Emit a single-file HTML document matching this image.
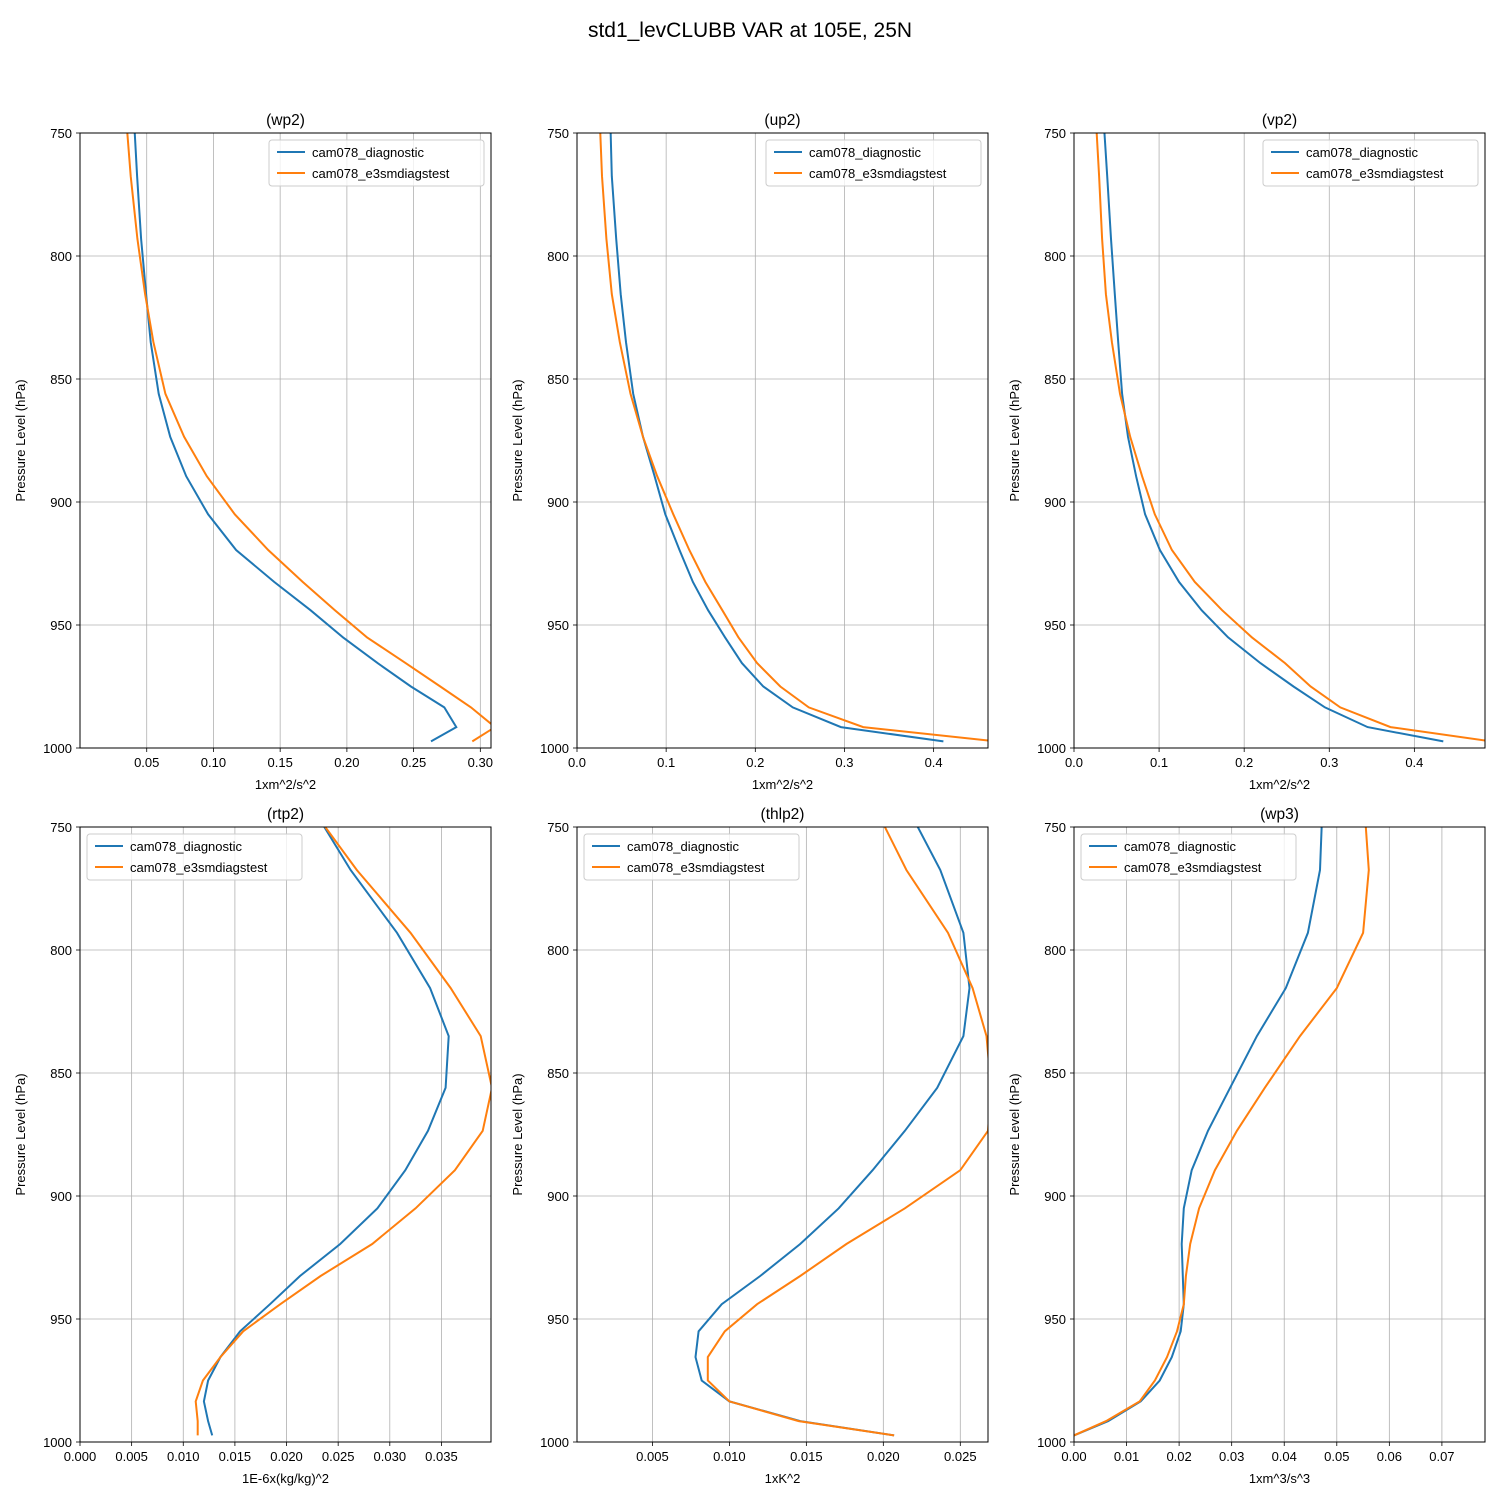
<!DOCTYPE html>
<html><head><meta charset="utf-8"><style>
body{margin:0;background:#fff;}
svg text{font-family:"Liberation Sans","DejaVu Sans",sans-serif;}
</style></head><body>
<svg id="fig" width="1500" height="1500" viewBox="0 0 1500 1500" xmlns="http://www.w3.org/2000/svg">
<rect width="1500" height="1500" fill="#fff"/>
<text x="750" y="37" font-size="21" text-anchor="middle">std1_levCLUBB VAR at 105E, 25N</text>
</svg>
<script>
const levels=[740,767.5,793,815.5,835,856,873.5,889.5,905,919.5,932.5,944,955,965.5,975,983.5,991.5,997.3];
const wp2Diag=[0.040,0.0428,0.0458,0.0495,0.053,0.059,0.0676,0.0796,0.096,0.117,0.1456,0.1727,0.197,0.223,0.248,0.273,0.282,0.263];
const wp2Test=[0.034,0.038,0.043,0.0488,0.055,0.064,0.078,0.095,0.116,0.141,0.167,0.191,0.215,0.244,0.270,0.293,0.311,0.294];
const up2Diag=[0.037,0.039,0.044,0.049,0.055,0.063,0.074,0.087,0.099,0.115,0.130,0.147,0.166,0.185,0.209,0.242,0.296,0.411];
const up2Test=[0.025,0.028,0.033,0.039,0.048,0.060,0.074,0.090,0.108,0.126,0.144,0.163,0.181,0.202,0.228,0.26,0.321,0.47];
const vp2Diag=[0.034,0.039,0.0435,0.048,0.052,0.0565,0.0635,0.073,0.0835,0.101,0.1235,0.150,0.181,0.219,0.258,0.295,0.345,0.434];
const vp2Test=[0.025,0.0295,0.033,0.0375,0.0445,0.054,0.066,0.080,0.095,0.115,0.142,0.174,0.209,0.248,0.278,0.313,0.372,0.49];
const rtp2Diag=[0.0222,0.0262,0.0307,0.0339,0.0357,0.0354,0.0337,0.0315,0.0288,0.0252,0.0213,0.0184,0.0155,0.0136,0.0124,0.0120,0.0124,0.0128];
const rtp2Test=[0.0220,0.0268,0.032,0.0359,0.0388,0.0399,0.039,0.0363,0.0325,0.0283,0.0233,0.0194,0.0158,0.0136,0.0119,0.0112,0.0114,0.0114];
const thlp2Diag=[0.0214,0.0237,0.0252,0.0256,0.0252,0.0235,0.0214,0.0193,0.0171,0.0146,0.012,0.0095,0.008,0.0078,0.0082,0.010,0.0146,0.0207];
const thlp2Test=[0.0193,0.0215,0.0242,0.0258,0.0267,0.027,0.0268,0.025,0.0214,0.0176,0.0146,0.0118,0.0097,0.0086,0.0086,0.010,0.0145,0.0207];
const wp3Diag=[0.0473,0.0468,0.0445,0.0403,0.0348,0.0297,0.0255,0.0224,0.0209,0.0205,0.0207,0.0209,0.0203,0.0186,0.0163,0.0127,0.0065,0.0];
const wp3Test=[0.0552,0.0561,0.055,0.050,0.043,0.0363,0.031,0.0268,0.0238,0.0221,0.0213,0.0209,0.0196,0.0177,0.0154,0.0125,0.0061,0.0];
const yTicks=[750,800,850,900,950,1000];
const panels=[
 {id:'wp2',title:'(wp2)',xl:'1xm^2/s^2',x0:80,y0:133,min:0.0,max:0.308,ticks:[0.05,0.10,0.15,0.20,0.25,0.30],dec:2,d:wp2Diag,t:wp2Test,leg:'right'},
 {id:'up2',title:'(up2)',xl:'1xm^2/s^2',x0:577,y0:133,min:0,max:0.461,ticks:[0,0.1,0.2,0.3,0.4],dec:1,d:up2Diag,t:up2Test,leg:'right'},
 {id:'vp2',title:'(vp2)',xl:'1xm^2/s^2',x0:1074,y0:133,min:0,max:0.483,ticks:[0,0.1,0.2,0.3,0.4],dec:1,d:vp2Diag,t:vp2Test,leg:'right'},
 {id:'rtp2',title:'(rtp2)',xl:'1E-6x(kg/kg)^2',x0:80,y0:827,min:0,max:0.0398,ticks:[0,0.005,0.010,0.015,0.020,0.025,0.030,0.035],dec:3,d:rtp2Diag,t:rtp2Test,leg:'left'},
 {id:'thlp2',title:'(thlp2)',xl:'1xK^2',x0:577,y0:827,min:0.0001,max:0.0268,ticks:[0.005,0.010,0.015,0.020,0.025],dec:3,d:thlp2Diag,t:thlp2Test,leg:'left'},
 {id:'wp3',title:'(wp3)',xl:'1xm^3/s^3',x0:1074,y0:827,min:0,max:0.0782,ticks:[0,0.01,0.02,0.03,0.04,0.05,0.06,0.07],dec:2,d:wp3Diag,t:wp3Test,leg:'left'}
];
const NS='http://www.w3.org/2000/svg';
const svg=document.getElementById('fig');
const W=411,H=615;
function mk(tag,attrs,parent){const e=document.createElementNS(NS,tag);for(const k in attrs)e.setAttribute(k,attrs[k]);parent.appendChild(e);return e;}
const defs=mk('defs',{},svg);
panels.forEach(p=>{
 const g=mk('g',{},svg);
 
 
 const xs=v=>p.x0+(v-p.min)/(p.max-p.min)*W;
 const ys=v=>p.y0+(v-750)/250*H;
 const cp=mk('clipPath',{id:'c'+p.id},defs);
 mk('rect',{x:p.x0,y:p.y0,width:W,height:H},cp);
 p.ticks.forEach(t=>{
  const x=xs(t);
  const gl=mk('line',{x1:x,x2:x,y1:p.y0,y2:p.y0+H,stroke:'#b0b0b0','stroke-width':0.8},g);
  
  
  mk('line',{x1:x,x2:x,y1:p.y0+H,y2:p.y0+H+4,stroke:'#000','stroke-width':0.8},g);
  const tx=mk('text',{x:x,y:p.y0+H+19,'font-size':13,'text-anchor':'middle'},g);
  
  
  tx.textContent=t.toFixed(p.dec);
 });
 yTicks.forEach(t=>{
  const y=ys(t);
  const gl=mk('line',{x1:p.x0,x2:p.x0+W,y1:y,y2:y,stroke:'#b0b0b0','stroke-width':0.8},g);
  
  
  mk('line',{x1:p.x0-4,x2:p.x0,y1:y,y2:y,stroke:'#000','stroke-width':0.8},g);
  const tx=mk('text',{x:p.x0-8,y:y+5,'font-size':13,'text-anchor':'end'},g);
  
  
  tx.textContent=t;
 });
 [[p.d,'#1f77b4','diagnostic'],[p.t,'#ff7f0e','e3smdiagstest']].forEach(([arr,c,n])=>{
  const pts=arr.map((v,i)=>xs(v).toFixed(1)+','+ys(levels[i]).toFixed(1)).join(' ');
  const l=mk('polyline',{points:pts,fill:'none',stroke:c,'stroke-width':2,'clip-path':'url(#c'+p.id+')'},g);
  
  
 });
 const fr=mk('rect',{x:p.x0,y:p.y0,width:W,height:H,fill:'none',stroke:'#000','stroke-width':1},g);
 
 
 const ti=mk('text',{x:p.x0+W/2,y:p.y0-8,'font-size':15.5,'text-anchor':'middle'},g);
 
 
 ti.textContent=p.title;
 const xl=mk('text',{x:p.x0+W/2,y:p.y0+H+41,'font-size':13,'text-anchor':'middle'},g);
 
 
 xl.textContent=p.xl;
 const yx=p.x0-55,yy=p.y0+H/2;
 const yl=mk('text',{x:yx,y:yy,'font-size':13,'text-anchor':'middle',transform:'rotate(-90 '+yx+' '+yy+')'},g);
 
 
 yl.textContent='Pressure Level (hPa)';
 const lx=p.leg==='right'?p.x0+W-222:p.x0+7, ly=p.y0+7;
 const lg=mk('g',{},g);
 
 
 mk('rect',{x:lx,y:ly,width:215,height:46,rx:3,fill:'#fff','fill-opacity':0.8,stroke:'#ccc','stroke-width':1},lg);
 [['cam078_diagnostic','#1f77b4'],['cam078_e3smdiagstest','#ff7f0e']].forEach(([nm,c],i)=>{
  const e=mk('g',{},lg);
  
  
  const yy2=ly+12+i*21;
  mk('line',{x1:lx+8,x2:lx+36,y1:yy2,y2:yy2,stroke:c,'stroke-width':2},e);
  const t=mk('text',{x:lx+43,y:yy2+5,'font-size':13},e);
  t.textContent=nm;
 });
});
</script>
</body></html>
